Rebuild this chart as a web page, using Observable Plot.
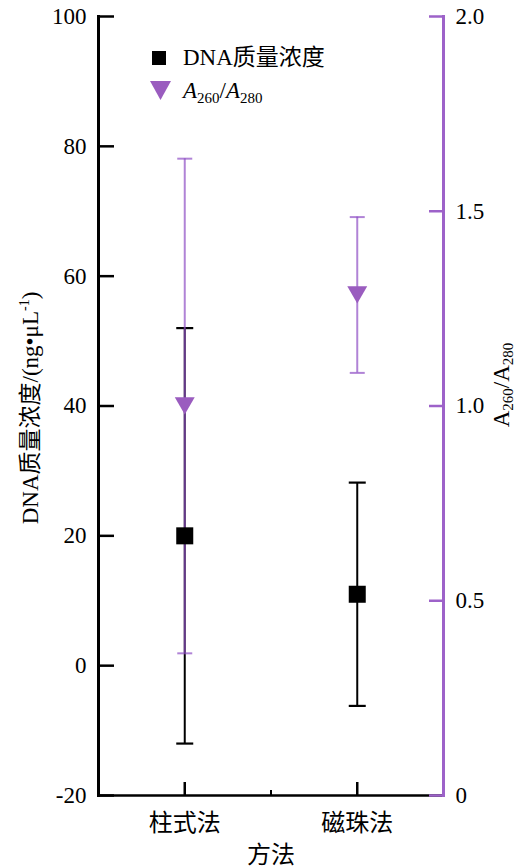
<!DOCTYPE html>
<html>
<head>
<meta charset="utf-8">
<script src="https://cdn.jsdelivr.net/npm/d3@7"></script>
<script src="https://cdn.jsdelivr.net/npm/@observablehq/plot@0.6"></script>
<style>
  html, body { margin: 0; padding: 0; background: #fff; }
  #wrap { position: relative; width: 525px; height: 867px; overflow: hidden;
          font-family: "Liberation Serif", "Noto Sans CJK SC", serif; color: #000; }
  .rot { position: absolute; white-space: nowrap; transform: translate(-50%, -50%) rotate(-90deg); font-size: 23px; line-height: 1; }
  .rot sub { font-size: 15px; vertical-align: -4px; }
  .rot sup { font-size: 14px; vertical-align: 9px; }
  .leg { position: absolute; font-size: 23px; line-height: 1; white-space: nowrap; }
  .leg sub { font-size: 15px; vertical-align: -5px; }
</style>
</head>
<body>
<div id="wrap"></div>
<script>
// ---- data ----
const methods = ["柱式法", "磁珠法"];
const dnaMean = [20, 11];
const dnaErr = [32, 17.2];
const ratioMean = [1.0, 1.285];
const ratioErr = [0.635, 0.2];
const leftTicks = [-20, 0, 20, 40, 60, 80, 100];
const rightTicks = [0, 0.5, 1.0, 1.5, 2.0];
const rightTickLabels = ["0", "0.5", "1.0", "1.5", "2.0"];
const xTitle = "方法";

// right axis (0–2) mapped onto left axis (-20–100)
const toLeft = r => -20 + r * 60;

const purple = "#9d62c9";
const triFill = "#9a5cbf";
const errPurple = "#8f4fc4";
const fontFam = '"Liberation Serif", "Noto Sans CJK SC", serif';

const dna = methods.map((m, i) => ({pos: i + 1, method: m, mean: dnaMean[i], lo: dnaMean[i] - dnaErr[i], hi: dnaMean[i] + dnaErr[i]}));
const ratio = methods.map((m, i) => ({pos: i + 1, method: m, mean: toLeft(ratioMean[i]), lo: toLeft(ratioMean[i] - ratioErr[i]), hi: toLeft(ratioMean[i] + ratioErr[i])}));

const cap = w => ({draw(ctx) { ctx.moveTo(-w / 2, 0); ctx.lineTo(w / 2, 0); }});

const chart = Plot.plot({
  width: 525,
  height: 867,
  marginLeft: 98,
  marginRight: 82,
  marginTop: 16,
  marginBottom: 72,
  style: {fontFamily: fontFam, fontSize: "23px", background: "white", color: "black"},
  x: {type: "linear", domain: [0.5, 2.5], axis: null},
  y: {domain: [-20, 100], axis: null},
  marks: [
    Plot.frame({anchor: "bottom", stroke: "black", strokeWidth: 2.5}),
    Plot.frame({anchor: "left", stroke: "black", strokeWidth: 3}),
    // left axis
    Plot.axisY({anchor: "left", ticks: leftTicks, tickSize: -16, tickFormat: () => "", stroke: "black", strokeWidth: 2.5, label: null}),
    Plot.axisY({anchor: "left", ticks: leftTicks, tickSize: 0, tickPadding: 12, tickFormat: d => String(d), fill: "black", fontSize: 23, label: null}),
    // bottom axis
    Plot.axisX({anchor: "bottom", ticks: [1, 2], tickSize: -13, tickFormat: () => "", stroke: "black", strokeWidth: 2.5, label: null}),
    Plot.axisX({anchor: "bottom", ticks: [1.5], tickSize: -5, tickFormat: () => "", stroke: "black", strokeWidth: 2, label: null}),
    Plot.axisX({anchor: "bottom", ticks: [1, 2], tickSize: 0, tickPadding: 18, tickFormat: d => methods[d - 1], fill: "black", fontSize: 24, label: null}),
    Plot.text([xTitle], {frameAnchor: "bottom", dy: 60, fontSize: 24, fill: "black", lineAnchor: "middle"}),
    // right axis
    Plot.frame({anchor: "right", stroke: purple, strokeWidth: 3}),
    Plot.axisY({anchor: "right", ticks: rightTicks.map(toLeft), tickSize: -15, tickFormat: () => "", stroke: purple, strokeWidth: 2.5, label: null}),
    Plot.axisY({anchor: "right", ticks: rightTicks.map(toLeft), tickSize: 0, tickPadding: 12, tickFormat: (d, i) => rightTickLabels[i], fill: "black", fontSize: 23, label: null}),
    // DNA error bars
    Plot.ruleX(dna, {x: "pos", y1: "lo", y2: "hi", stroke: "black", strokeWidth: 2}),
    Plot.dot(dna, {x: "pos", y: "lo", symbol: cap(17), r: 5, fill: "none", stroke: "black", strokeWidth: 2.2}),
    Plot.dot(dna, {x: "pos", y: "hi", symbol: cap(17), r: 5, fill: "none", stroke: "black", strokeWidth: 2.2}),
    // ratio error bars
    Plot.ruleX(ratio, {x: "pos", y1: "lo", y2: "hi", stroke: errPurple, strokeOpacity: 0.7, strokeWidth: 2}),
    Plot.dot(ratio, {x: "pos", y: "lo", symbol: cap(15), r: 5, fill: "none", stroke: errPurple, strokeOpacity: 0.7, strokeWidth: 2}),
    Plot.dot(ratio, {x: "pos", y: "hi", symbol: cap(15), r: 5, fill: "none", stroke: errPurple, strokeOpacity: 0.7, strokeWidth: 2}),
    // markers
    Plot.dot(ratio, {x: "pos", y: "mean", symbol: "triangle", rotate: 180, r: 7.4, fill: triFill, stroke: "none", dy: -3}),
    Plot.dot(dna, {x: "pos", y: "mean", symbol: "square", r: 9.6, fill: "black", stroke: "none"})
  ]
});

const wrap = document.getElementById("wrap");
wrap.appendChild(chart);

// axis titles and legend
const yl = document.createElement("div");
yl.className = "rot";
yl.style.left = "30px"; yl.style.top = "408px";
yl.innerHTML = "DNA质量浓度/(ng•μL<sup>-1</sup>)";
wrap.appendChild(yl);

const yr = document.createElement("div");
yr.className = "rot";
yr.style.left = "503px"; yr.style.top = "385px";
yr.innerHTML = "A<sub>260</sub>/A<sub>280</sub>";
wrap.appendChild(yr);

const leg = document.createElement("div");
leg.style.position = "absolute"; leg.style.left = "0"; leg.style.top = "0";
leg.innerHTML = `
  <svg width="200" height="110" style="position:absolute;left:0;top:0">
    <rect x="152" y="51" width="14" height="14" fill="black"></rect>
    <path d="M150,81 L171,81 L160.5,100 Z" fill="${triFill}"></path>
  </svg>
  <div class="leg" style="left:183px;top:46px">DNA质量浓度</div>
  <div class="leg" style="left:183px;top:79px"><i>A</i><sub>260</sub>/<i>A</i><sub>280</sub></div>`;
wrap.appendChild(leg);
</script>
</body>
</html>
